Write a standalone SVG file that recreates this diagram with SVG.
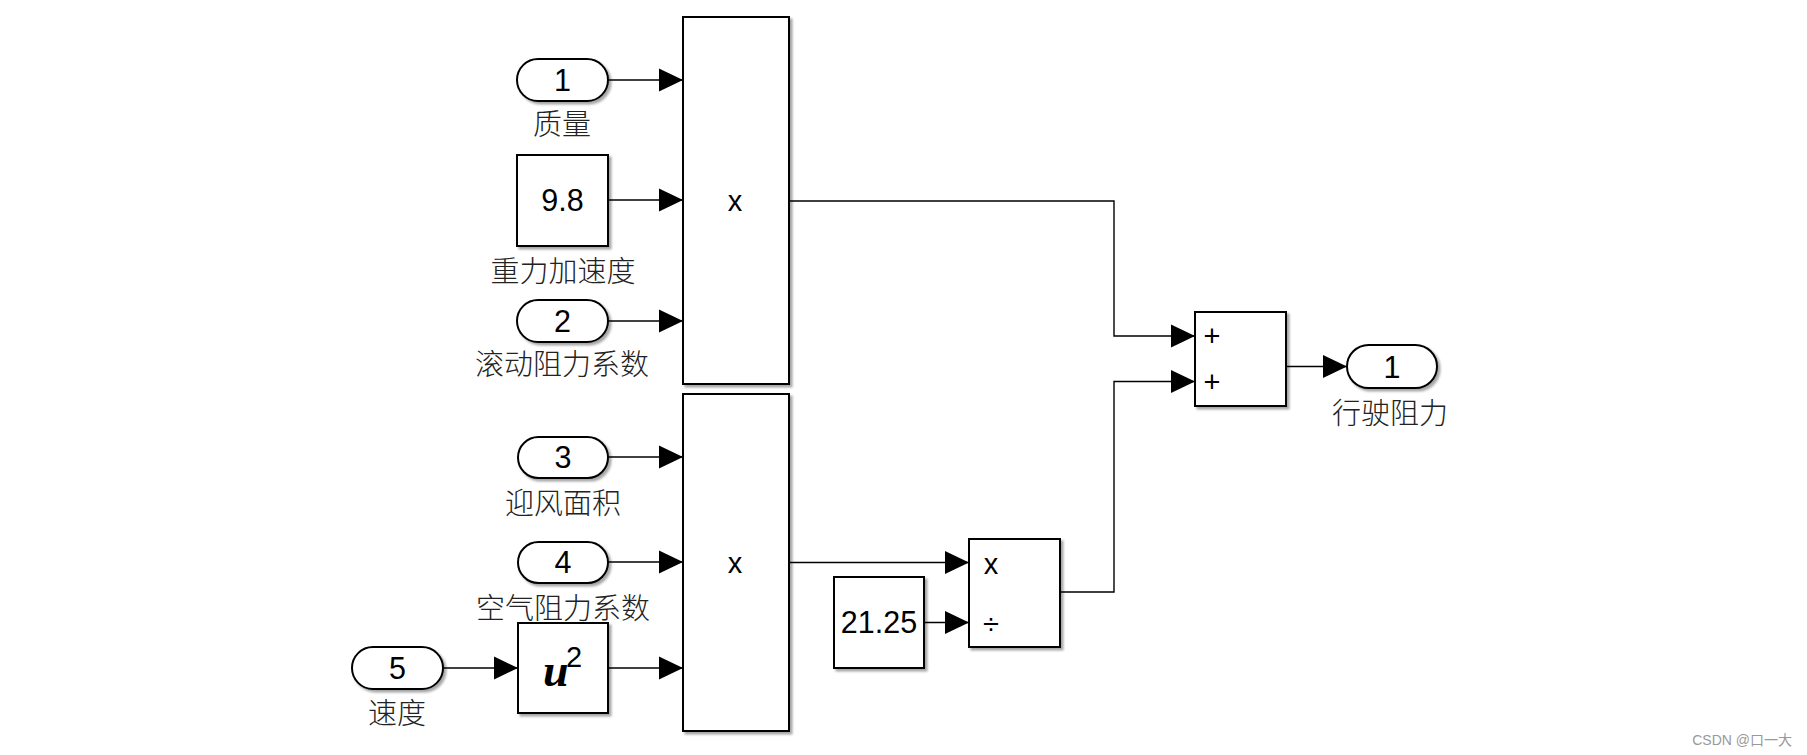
<svg xmlns="http://www.w3.org/2000/svg" width="1807" height="755" viewBox="0 0 1807 755">
<defs>
<marker id="arr" markerUnits="userSpaceOnUse" markerWidth="24" markerHeight="24" refX="24" refY="11.5" orient="auto" overflow="visible">
<path d="M0,0 L24,11.5 L0,23 Z" fill="#000"/>
</marker>
<filter id="sh" x="-10%" y="-10%" width="130%" height="130%">
<feDropShadow dx="2.5" dy="2.5" stdDeviation="1.2" flood-color="#000" flood-opacity="0.35"/>
</filter>
</defs>
<style>
.blk{fill:#fff;stroke:#000;stroke-width:2;filter:url(#sh)}
.wire{fill:none;stroke:#000;stroke-width:1.4;marker-end:url(#arr)}
.num{font-family:"Liberation Sans",Arial,sans-serif;font-size:30.5px;fill:#000;text-anchor:middle}
.lbl{font-family:"Liberation Sans","Noto Sans CJK SC",sans-serif;font-size:29px;font-weight:300;fill:#222;text-anchor:middle}
.sym{font-family:"Liberation Sans",Arial,sans-serif;font-size:29px;fill:#000;text-anchor:middle}
</style>
<rect width="1807" height="755" fill="#fff"/>

<g id="connectors">
<path class="wire" d="M608,80 H683"/>
<path class="wire" d="M608,200 H683"/>
<path class="wire" d="M608,321 H683"/>
<path class="wire" d="M608,457 H683"/>
<path class="wire" d="M608,562 H683"/>
<path class="wire" d="M443,668 H518"/>
<path class="wire" d="M608,668 H683"/>
<path class="wire" d="M789,201 H1114 V336 H1195"/>
<path class="wire" d="M789,562.5 H969"/>
<path class="wire" d="M924,622.5 H969"/>
<path class="wire" d="M1060,592 H1114 V381.5 H1195"/>
<path class="wire" d="M1286,366.5 H1347"/>
</g>

<g id="in1">
<rect class="blk" x="517" y="59" width="91" height="42" rx="21" ry="21"/>
<text class="num" x="562.5" y="91">1</text>
<text class="lbl" x="562" y="135">质量</text>
</g>
<g id="const98">
<rect class="blk" x="517" y="155" width="91" height="91"/>
<text class="num" x="562.5" y="211">9.8</text>
<text class="lbl" x="563" y="282">重力加速度</text>
</g>
<g id="in2">
<rect class="blk" x="517" y="300" width="91" height="42" rx="21" ry="21"/>
<text class="num" x="562.5" y="332">2</text>
<text class="lbl" x="562" y="375">滚动阻力系数</text>
</g>
<g id="in3">
<rect class="blk" x="518" y="437" width="90" height="41" rx="20.5" ry="20.5"/>
<text class="num" x="563" y="468">3</text>
<text class="lbl" x="563" y="514">迎风面积</text>
</g>
<g id="in4">
<rect class="blk" x="518" y="542" width="90" height="41" rx="20.5" ry="20.5"/>
<text class="num" x="563" y="573">4</text>
<text class="lbl" x="563" y="619">空气阻力系数</text>
</g>
<g id="in5">
<rect class="blk" x="352" y="647" width="91" height="42" rx="21" ry="21"/>
<text class="num" x="397.5" y="679">5</text>
<text class="lbl" x="397" y="724">速度</text>
</g>
<g id="square">
<rect class="blk" x="518" y="623" width="90" height="90"/>
<text x="543" y="686" font-family="Liberation Serif,serif" font-size="46" font-weight="bold" font-style="italic" fill="#000">u</text>
<text x="566" y="667" font-family="Liberation Sans,Arial,sans-serif" font-size="29" fill="#000">2</text>
</g>
<g id="prod1">
<rect class="blk" x="683" y="17" width="106" height="367"/>
<text class="sym" x="735" y="211">x</text>
</g>
<g id="prod2">
<rect class="blk" x="683" y="394" width="106" height="337"/>
<text class="sym" x="735" y="573">x</text>
</g>
<g id="const2125">
<rect class="blk" x="834" y="577" width="90" height="91"/>
<text class="num" x="879" y="633">21.25</text>
</g>
<g id="divide">
<rect class="blk" x="969" y="539" width="91" height="108"/>
<text class="sym" x="991" y="574">x</text>
<text class="sym" x="991" y="634">÷</text>
</g>
<g id="sum">
<rect class="blk" x="1195" y="312" width="91" height="94"/>
<text class="sym" x="1212" y="346">+</text>
<text class="sym" x="1212" y="392">+</text>
</g>
<g id="out1">
<rect class="blk" x="1347" y="345" width="90" height="43" rx="21.5" ry="21.5"/>
<text class="num" x="1392" y="377.5">1</text>
<text class="lbl" x="1390" y="424">行驶阻力</text>
</g>
<text x="1792" y="745" font-family="Liberation Sans,Noto Sans CJK SC,sans-serif" font-size="14" fill="#999" text-anchor="end">CSDN @口一大</text>
</svg>
